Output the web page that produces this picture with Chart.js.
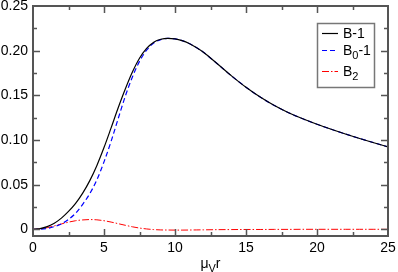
<!DOCTYPE html>
<html>
<head>
<meta charset="utf-8">
<script src="https://cdn.jsdelivr.net/npm/chart.js@4/dist/chart.umd.min.js"></script>
<style>
    html, body { margin: 0; padding: 0; background: #fff; }
    #wrap { width: 398px; height: 272px; }
</style>
</head>
<body>
<div id="wrap"><canvas id="c" width="398" height="272"></canvas></div>
<script>
// --- Data ---
const xs = [0, 0.5, 1, 1.5, 2, 2.5, 3, 3.5, 4, 4.5, 5, 5.5, 6, 6.5, 7, 7.5, 8, 8.5, 9, 9.5,
    10, 10.5, 11, 11.5, 12, 13, 14, 15, 16, 17, 18, 19, 20, 21, 22, 23, 24, 25];
const bMinus1 = [0, 0.0008, 0.003, 0.0068, 0.0125, 0.02, 0.029, 0.0405, 0.0545, 0.0715, 0.0915, 0.1135, 0.136, 0.157, 0.176, 0.1915, 0.2025, 0.2095, 0.2128, 0.2138,
    0.2132, 0.2112, 0.208, 0.2035, 0.1982, 0.185, 0.1715, 0.159, 0.148, 0.1385, 0.1305, 0.1237, 0.1176, 0.112, 0.1067, 0.1017, 0.0969, 0.0923];
const b0Minus1 = [0, 0.0002, 0.001, 0.003, 0.006, 0.011, 0.018, 0.028, 0.04, 0.0555, 0.0755, 0.0985, 0.124, 0.149, 0.1705, 0.188, 0.2005, 0.2085, 0.2124, 0.2137,
    0.2132, 0.2112, 0.208, 0.2035, 0.1982, 0.185, 0.1715, 0.159, 0.148, 0.1385, 0.1305, 0.1237, 0.1176, 0.112, 0.1067, 0.1017, 0.0969, 0.0923];
const b2 = [0, 0.0005, 0.0018, 0.0038, 0.006, 0.008, 0.0096, 0.0105, 0.0109, 0.0106, 0.0096, 0.0081, 0.0063, 0.0045, 0.0028, 0.0014, 0.0004, -0.0003, -0.0007, -0.0008,
    -0.0009, -0.0009, -0.0008, -0.0007, -0.0006, -0.0004, -0.0003, -0.0002, -0.0002, -0.0001, -0.0001, 0, 0, 0, 0, 0, 0, 0];

const xTicks = [0, 5, 10, 15, 20, 25];
const yTicks = [0, 0.05, 0.10, 0.15, 0.20, 0.25];
const xMinor = [2.5, 7.5, 12.5, 17.5, 22.5];
const yMinor = [0.025, 0.075, 0.125, 0.175, 0.225];

const FONT = "'Liberation Sans', Arial, sans-serif";
const FRAME = '#555';

function pts(ys) { return xs.map((x, i) => ({ x, y: ys[i] })); }

// frame + inward ticks on all four sides, axis title, legend box
const decorPlugin = {
    id: 'decor',
    afterDraw(chart) {
        const { ctx, chartArea: a, scales } = chart;
        const sx = scales.x, sy = scales.y;
        ctx.save();
        ctx.strokeStyle = FRAME;
        ctx.lineWidth = 2;
        ctx.strokeRect(a.left, a.top, a.right - a.left, a.bottom - a.top);

        ctx.lineWidth = 1.5;
        ctx.beginPath();
        const tick = (vals, len) => {
            for (const v of vals) {
                const px = Math.round(sx.getPixelForValue(v)) + 0.5;
                ctx.moveTo(px, a.bottom); ctx.lineTo(px, a.bottom - len);
                ctx.moveTo(px, a.top); ctx.lineTo(px, a.top + len);
            }
        };
        const ytick = (vals, len) => {
            for (const v of vals) {
                const py = Math.round(sy.getPixelForValue(v)) + 0.5;
                ctx.moveTo(a.left, py); ctx.lineTo(a.left + len, py);
                ctx.moveTo(a.right, py); ctx.lineTo(a.right - len, py);
            }
        };
        tick(xTicks.slice(1, -1), 7);
        tick(xMinor, 4);
        ytick(yTicks.slice(0, -1), 7);
        ytick(yMinor, 4);
        ctx.stroke();

        // x axis title: mu_V r
        ctx.fillStyle = '#000';
        ctx.textBaseline = 'alphabetic';
        ctx.textAlign = 'left';
        const big = `14px ${FONT}`, small = `11px ${FONT}`;
        ctx.font = big; const wMu = ctx.measureText('μ').width, wR = ctx.measureText('r').width;
        ctx.font = small; const wV = ctx.measureText('V').width;
        let tx = (a.left + a.right) / 2 - (wMu + wV + wR) / 2;
        const base = 268;
        ctx.font = big; ctx.fillText('μ', tx, base); tx += wMu;
        ctx.font = small; ctx.fillText('V', tx, base + 3.5); tx += wV;
        ctx.font = big; ctx.fillText('r', tx, base);

        // legend
        ctx.strokeStyle = '#777';
        ctx.lineWidth = 1.5;
        ctx.strokeRect(317.5, 23.5, 57, 64);
        const rows = [
            { ds: 0, y: 33, parts: [['B', 0], ['-1', 0]] },
            { ds: 1, y: 50, parts: [['B', 0], ['0', 1], ['-1', 0]] },
            { ds: 2, y: 71, parts: [['B', 0], ['2', 1]] },
        ];
        for (const r of rows) {
            const d = chart.data.datasets[r.ds];
            ctx.strokeStyle = d.borderColor;
            ctx.lineWidth = d.borderWidth;
            ctx.setLineDash(d.borderDash || []);
            ctx.beginPath();
            ctx.moveTo(322, r.y + 0.5); ctx.lineTo(338, r.y + 0.5);
            ctx.stroke();
            ctx.setLineDash([]);
            let lx = 343;
            for (const [t, sub] of r.parts) {
                ctx.font = sub ? small : big;
                ctx.fillText(t, lx, r.y + 5 + (sub ? 4 : 0));
                lx += ctx.measureText(t).width;
            }
        }
        ctx.restore();
    },
};

new Chart(document.getElementById('c'), {
    type: 'line',
    data: {
        datasets: [
            { label: 'B-1', data: pts(bMinus1), borderColor: '#000000', borderWidth: 1.2 },
            { label: 'B0-1', data: pts(b0Minus1), borderColor: '#0000ff', borderWidth: 1.2, borderDash: [5, 3] },
            { label: 'B2', data: pts(b2), borderColor: '#ff0000', borderWidth: 1, borderDash: [7, 2, 1.5, 2] },
        ],
    },
    options: {
        responsive: false,
        animation: false,
        devicePixelRatio: 1,
        layout: { padding: { top: 6, right: 10, left: 0, bottom: 0 } },
        elements: {
            point: { radius: 0 },
            line: { cubicInterpolationMode: 'monotone', fill: false },
        },
        plugins: { legend: { display: false }, tooltip: { enabled: false } },
        scales: {
            x: {
                type: 'linear', min: 0, max: 25,
                afterBuildTicks: (s) => { s.ticks = xTicks.map((v) => ({ value: v })); },
                afterFit: (s) => { s.height = 36; s.paddingLeft = 0; s.paddingRight = 0; },
                grid: { display: false, drawTicks: false },
                border: { display: false },
                ticks: { color: '#000', font: { family: FONT, size: 14 }, padding: 4, maxRotation: 0, autoSkip: false,
                    callback: (v) => String(v) },
            },
            y: {
                type: 'linear', min: -0.0075, max: 0.25,
                afterBuildTicks: (s) => { s.ticks = yTicks.map((v) => ({ value: v })); },
                afterFit: (s) => { s.width = 33; s.paddingTop = 0; s.paddingBottom = 0; },
                grid: { display: false, drawTicks: false },
                border: { display: false },
                ticks: { color: '#000', font: { family: FONT, size: 14 }, padding: 5, autoSkip: false,
                    callback: (v) => (v === 0 ? '0' : v.toFixed(2)) },
            },
        },
    },
    plugins: [decorPlugin],
});
</script>
</body>
</html>
